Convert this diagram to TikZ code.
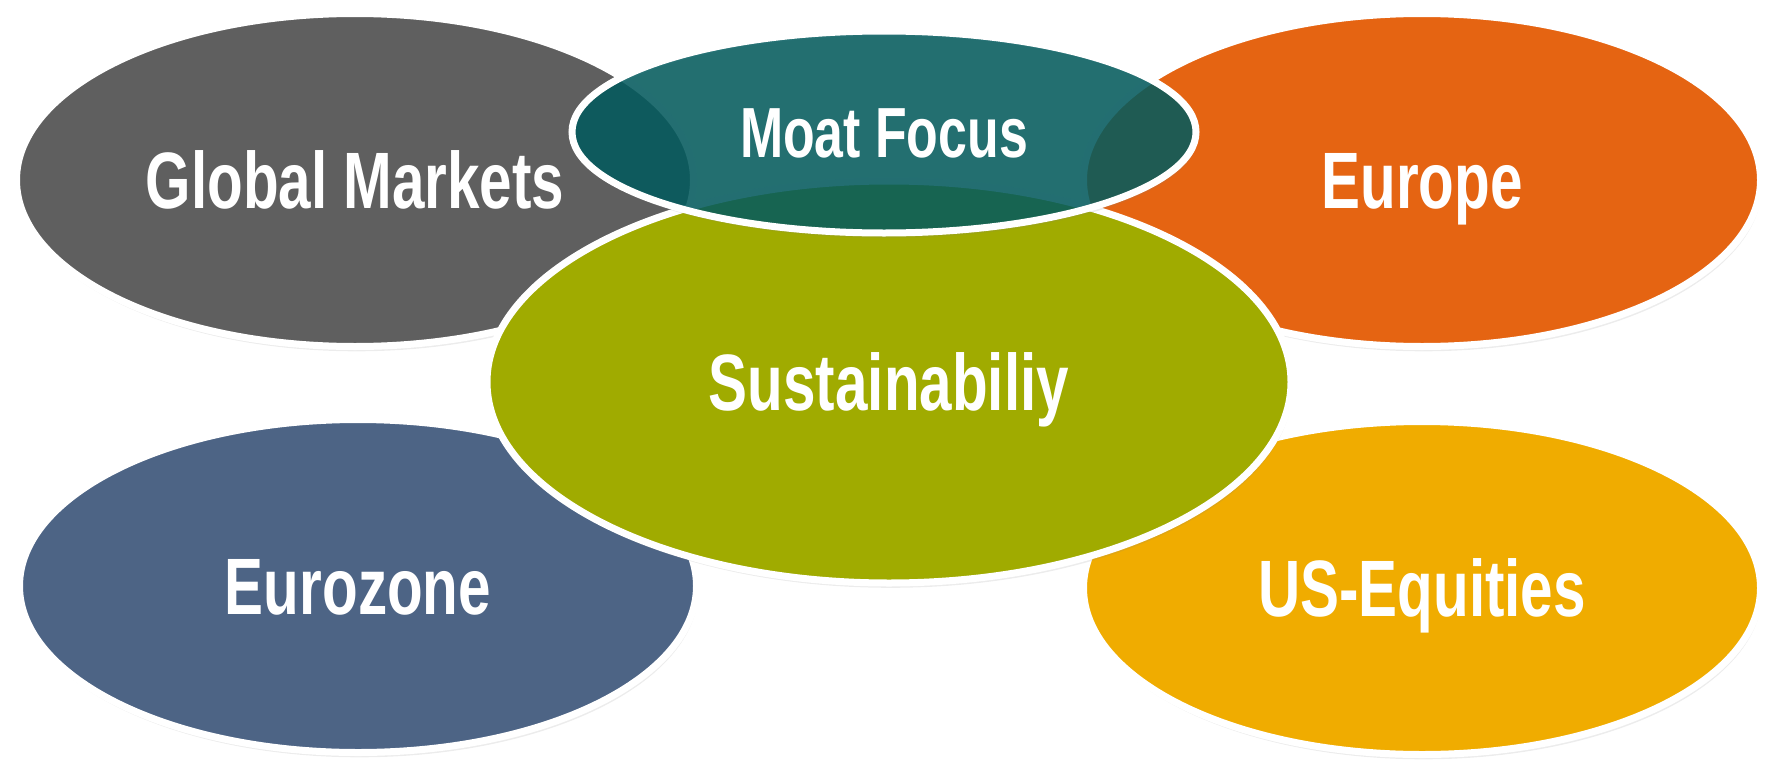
\documentclass[tikz,border=0pt]{standalone}
\usepackage{fontspec}
\newfontfamily\blobfont[FakeStretch=0.73]{Liberation Sans}
\usetikzlibrary{shapes.geometric,shadows}

\definecolor{gmgray}{HTML}{5F5F5F}
\definecolor{euorange}{HTML}{E56412}
\definecolor{ezblue}{HTML}{4D6485}
\definecolor{usyellow}{HTML}{F0AC00}
\definecolor{susgreen}{HTML}{A0AB00}
\definecolor{moatteal}{HTML}{00595C}

\begin{document}
\begin{tikzpicture}[x=0.5pt, y=-0.5pt,
    blob/.style = {ellipse, draw=white, line width=3.5pt, text=white, inner sep=0pt,
        font=\blobfont\bfseries\fontsize{40}{44}\selectfont, text height=28.6pt, text depth=0pt,
        drop shadow={opacity=0.15, shadow xshift=0.8pt, shadow yshift=-2.4pt}},
    side/.style = {blob, minimum width=338.5pt, minimum height=166.5pt}]
    \useasboundingbox (0,0) rectangle (1777,760);
    \node[side, fill=gmgray] (global) at (355,180) {Global Markets};
    \node[side, fill=euorange] (europe) at (1422,180) {Europe};
    \node[side, fill=ezblue] (eurozone) at (358,586) {Eurozone};
    \node[side, fill=usyellow] (us) at (1422,588) {US-Equities};
    \node[blob, fill=susgreen, minimum width=402pt, minimum height=201pt] (sust) at (889,382) {Sustainabiliy};
    \node[blob, fill=moatteal, fill opacity=0.85, text opacity=1, drop shadow={opacity=0},
        minimum width=312pt, minimum height=101pt, text height=25.4pt,
        font=\blobfont\bfseries\fontsize{35.5}{39}\selectfont] (moat) at (884,132) {Moat Focus};
\end{tikzpicture}
\end{document}
